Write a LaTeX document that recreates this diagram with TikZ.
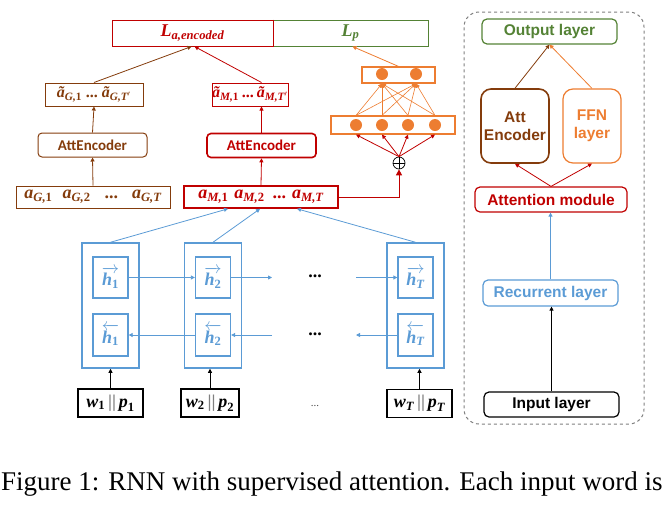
\documentclass[tikz,border=0pt]{standalone}
\usepackage{fontspec}
\usepackage{amsmath}
\setmainfont{Liberation Serif}
\newfontfamily\carl{Carlito}
\newfontfamily\lsans{Liberation Sans}
\newfontfamily\lserif{Liberation Serif}
\newcommand\ml[1]{\text{\lserif\bfseries\itshape #1}}
\newcommand\mb[1]{\text{\lserif\bfseries #1}}
\newcommand\ta{\text{\lserif\bfseries\itshape \~{a}}}
\usetikzlibrary{arrows.meta}
\definecolor{cbrown}{HTML}{843C0C}
\definecolor{cred}{HTML}{C00000}
\definecolor{cgreen}{HTML}{548235}
\definecolor{corange}{HTML}{ED7D31}
\definecolor{cblue}{HTML}{5B9BD5}
\definecolor{cgray}{HTML}{7F7F7F}
\begin{document}
\begin{tikzpicture}[x=1pt,y=-1pt,
  >={Triangle[length=4pt,width=4pt]},
  bx/.style={draw,rectangle,inner sep=0pt,line width=1pt},
  mtext/.style={font=\fontsize{18}{20}\selectfont},
  ttext/.style={font=\fontsize{16}{20}\selectfont},
  enc/.style={bx,rounded corners=4pt,font=\carl\bfseries\fontsize{15}{18}\selectfont},
  rp/.style={bx,rounded corners=5pt,line width=1.2pt,font=\lsans\bfseries\fontsize{15.5}{18}\selectfont},
  dot/.style={circle,fill=corange,draw=none,minimum size=12pt,inner sep=0pt},
  ln/.style={line width=0.8pt},
  hlab/.style={bx,draw=cblue,line width=1.3pt,minimum width=35pt,text=cblue,font=\fontsize{18}{20}\selectfont}
]
\useasboundingbox (0,0) rectangle (669,507);

% losses
\node[bx,draw=cred,text=cred,minimum width=161pt,minimum height=26pt,font=\fontsize{18}{20}\selectfont] (La) at (192.5,33) {$\ml{L}_{\ml{a,encoded}}$};
\node[bx,draw=cgreen,text=cgreen,minimum width=155pt,minimum height=26pt,font=\fontsize{18}{20}\selectfont] (Lp) at (350.5,33) {$\ml{L}_{\ml{p}}$};
\draw[cred,line width=1.6pt] (La.north east) -- (La.south east);

% G column
\node[bx,draw=cbrown,text=cbrown,minimum width=98pt,minimum height=23pt,ttext] (alG) at (94,94.5) {$\ta_{\ml{G,}\mb{1}}\hspace{4pt}\mb{...}\hspace{4pt}\ta_{\ml{G,T}'}$};
\node[enc,draw=cbrown,text=cbrown,minimum width=109pt,minimum height=24pt] (encG) at (92.5,145) {AttEncoder};
\node[bx,draw=cbrown,text=cbrown,minimum width=154pt,minimum height=22pt,mtext] (aG) at (93,197) {$\ml{a}_{\ml{G,}\mb{1}}\hspace{10pt}\ml{a}_{\ml{G,}\mb{2}}\hspace{14pt}\mb{...}\hspace{14pt}\ml{a}_{\ml{G,T}}$};
\draw[ln,cbrown,->] (aG.north) -- (encG.south);
\draw[ln,cbrown,->] (encG.north) -- (alG.south);
\draw[ln,cbrown,->] (alG.north) -- ([xshift=-1pt]La.south);

% M column
\node[bx,draw=cred,text=cred,minimum width=76pt,minimum height=23pt,ttext] (alM) at (250,94.5) {$\ta_{\ml{M,}\mb{1}}\hspace{3pt}\mb{...}\hspace{3pt}\ta_{\ml{M,T}'}$};
\node[enc,draw=cred,text=cred,line width=1.6pt,minimum width=109pt,minimum height=24pt] (encM) at (261.5,145.5) {AttEncoder};
\node[bx,draw=cred,text=cred,line width=1.6pt,minimum width=154pt,minimum height=22pt,mtext] (aM) at (261,197) {$\ml{a}_{\ml{M,}\mb{1}}\hspace{6pt}\ml{a}_{\ml{M,}\mb{2}}\hspace{8pt}\mb{...}\hspace{6pt}\ml{a}_{\ml{M,T}}$};
\draw[ln,cred,->] (aM.north) -- (encM.south);
\draw[ln,cred,->] (encM.north) -- (alM.south -| encM.north);
\draw[ln,cred,->] (alM.north -| encM.north) -- ([xshift=2pt]La.south);

% FFN
\node[bx,draw=corange,line width=1.2pt,minimum width=124pt,minimum height=18pt] (ffnB) at (393,125) {};
\node[bx,draw=corange,line width=1.2pt,minimum width=73pt,minimum height=16pt] (ffnT) at (398.5,75) {};
\node[dot] (b1) at (356,125) {};
\node[dot] (b2) at (382,125) {};
\node[dot] (b3) at (408,125) {};
\node[dot] (b4) at (435,125) {};
\node[dot] (t1) at (382,74) {};
\node[dot] (t2) at (416,74) {};
\foreach \b in {b1,b2,b3,b4}{
  \foreach \t in {t1,t2}{
    \draw[line width=0.6pt,corange,->] (\b |- ffnB.north) -- (\t |- ffnT.south);
  }
}
\draw[ln,corange,->] (ffnT.north) -- ([xshift=2pt]Lp.south);
\node[circle,draw=black,fill=white,line width=0.7pt,minimum size=12pt,inner sep=0pt] (op) at (399,163) {};
\draw[line width=0.7pt] (op.north) -- (op.south) (op.west) -- (op.east);
\foreach \b in {b1,b2,b3,b4}{
  \draw[ln,cred,->] (op.north) -- (\b |- ffnB.south);
}
\draw[line width=1pt,cred,-{Triangle[length=6pt,width=6pt]}] (aM.east) -| (op.south);

% RNN
\foreach \n/\x/\s in {1/110.5/\mb{1},2/213/\mb{2},T/415.5/\ml{T}}{
  \node[bx,draw=cblue,line width=1.5pt,minimum width=57pt,minimum height=125pt] (o\n) at (\x,305.5) {};
  \node[hlab,minimum height=41pt] (hf\n) at (\x,277.5) {$\overrightarrow{\ml{h}_{\s}}$};
  \node[hlab,minimum height=42pt] (hb\n) at (\x,335) {$\overleftarrow{\ml{h}_{\s}}$};
}
\coordinate (f1) at (272,277.5);
\coordinate (f2) at (356,277.5);
\coordinate (k1) at (272,335);
\coordinate (k2) at (356,335);
\draw[ln,cblue,->] (hf1.east) -- (hf2.west);
\draw[ln,cblue,->] (hf2.east) -- (f1);
\draw[ln,cblue,->] (f2) -- (hfT.west);
\draw[ln,cblue,->] (hb2.west) -- (hb1.east);
\draw[ln,cblue,->] (k1) -- (hb2.east);
\draw[ln,cblue,->] (hbT.west) -- (k2);
\node[font=\lserif\bfseries\fontsize{18}{20}\selectfont] (d1) at (315,276) {...};
\node[font=\lserif\bfseries\fontsize{18}{20}\selectfont] (d2) at (315,334) {...};
\node[font=\lserif\fontsize{11}{12}\selectfont,text=black!70] (d3) at (315,406) {...};

\draw[ln,cblue,->] (o1.north) -- ([xshift=-33pt]aM.south);
\draw[ln,cblue,->] (o2.north) -- ([xshift=-1pt]aM.south);
\draw[ln,cblue,->] (oT.north) -- ([xshift=36pt]aM.south);

% inputs
\node[bx,line width=1.2pt,minimum width=65pt,minimum height=28pt,font=\fontsize{18}{20}\selectfont] (in1) at (110.5,403) {$\ml{w}_{\mb{1}}\,{\color{black!50}\mb{||}}\,\ml{p}_{\mb{1}}$};
\node[bx,line width=1.2pt,minimum width=58pt,minimum height=28pt,font=\fontsize{18}{20}\selectfont] (in2) at (210,403) {$\ml{w}_{\mb{2}}\,{\color{black!50}\mb{||}}\,\ml{p}_{\mb{2}}$};
\node[bx,line width=1.6pt,minimum width=65pt,minimum height=28pt,font=\fontsize{18}{20}\selectfont] (inT) at (419.5,403.5) {$\ml{w}_{\ml{T}}\,{\color{black!50}\mb{||}}\,\ml{p}_{\ml{T}}$};
\draw[ln,->] (in1.north) -- (o1.south);
\draw[ln,->] (in2.north) -- (o2.south -| in2.north);
\draw[line width=1.4pt,->] (inT.north) -- (inT.north |- oT.south);

% right panel
\node[draw=cgray,dashed,line width=1pt,rounded corners=15pt,minimum width=180pt,minimum height=412pt,inner sep=0pt] (panel) at (554,218) {};
\node[rp,draw=cgreen,text=cgreen,minimum width=135pt,minimum height=25pt] (out) at (549.5,31.5) {Output layer};
\node[rp,draw=cbrown,text=cbrown,line width=1.6pt,rounded corners=10pt,minimum width=68pt,minimum height=74pt,align=center] (ae) at (515,126) {Att\\Encoder};
\node[rp,draw=corange,text=corange,rounded corners=10pt,minimum width=58pt,minimum height=74pt,align=center] (ffn) at (592,126) {FFN\\layer};
\node[rp,draw=cred,text=cred,minimum width=152pt,minimum height=25pt] (am) at (551,199.5) {Attention module};
\node[rp,draw=cblue,text=cblue,minimum width=135pt,minimum height=26pt] (rec) at (550.5,293) {Recurrent layer};
\node[rp,draw=black,text=black,minimum width=135pt,minimum height=25pt] (inl) at (551.5,404.5) {Input layer};
\draw[ln,cred,->] (am.north) -- (ae.south);
\draw[ln,cred,->] (am.north) -- (ffn.south);
\draw[ln,cbrown,->] (ae.north) -- (out.south);
\draw[ln,corange,->] (ffn.north) -- (out.south);
\draw[ln,cblue,->] (rec.north) -- (rec.north |- am.south);
\draw[line width=1pt,->] (inl.north) -- (inl.north |- rec.south);

% caption
\node[anchor=base west,inner sep=0pt,font=\fontsize{27}{30}\selectfont] (cap) at (1,490) {Figure 1: RNN with supervised attention. Each input word is};
\end{tikzpicture}
\end{document}
